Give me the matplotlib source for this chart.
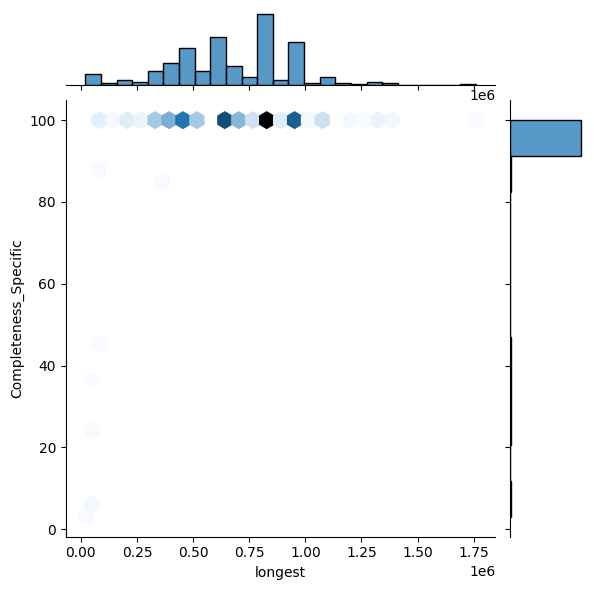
import numpy as np
import pandas as pd
import seaborn as sns
import matplotlib
matplotlib.use("Agg")
from matplotlib import pyplot as plt

# x 取值（各组中心）及对应数量，y 基本都是 100
bin_centers = [0.055e6, 0.125e6, 0.195e6, 0.265e6, 0.335e6, 0.405e6, 0.475e6,
               0.545e6, 0.615e6, 0.685e6, 0.755e6, 0.825e6, 0.895e6, 0.965e6,
               1.035e6, 1.105e6, 1.175e6, 1.245e6, 1.315e6, 1.385e6, 1.76e6]
bin_counts = [4, 2, 5, 3, 14, 21, 36, 14, 47, 19, 8, 70, 5, 42, 2, 8, 2, 1, 3, 2, 1]

# 少数偏离的点
out_x = [0.02e6, 0.06e6, 0.06e6, 0.03e6, 0.03e6, 0.06e6, 0.37e6, 0.08e6]
out_y = [3, 6, 6, 23, 36, 45, 84, 87]

x = np.concatenate([np.repeat(bin_centers, bin_counts), out_x])
y = np.concatenate([np.full(sum(bin_counts), 100.0), out_y])
df = pd.DataFrame({"longest": x, "Completeness_Specific": y})

g = sns.JointGrid(data=df, x="longest", y="Completeness_Specific", height=6)
g.ax_joint.hexbin(x, y, gridsize=28, cmap=sns.light_palette("C0", as_cmap=True)
                  if False else None, mincnt=1)
g.ax_joint.collections[0].remove()
cmap = sns.blend_palette(["#f7fbff", "C0", "black"], as_cmap=True)
g.ax_joint.hexbin(x, y, gridsize=28, cmap=cmap, mincnt=1)
sns.histplot(x=x, bins=25, ax=g.ax_marg_x)
sns.histplot(y=y, bins=11, ax=g.ax_marg_y)
g.set_axis_labels("longest", "Completeness_Specific")
g.savefig("out.png", dpi=100)
